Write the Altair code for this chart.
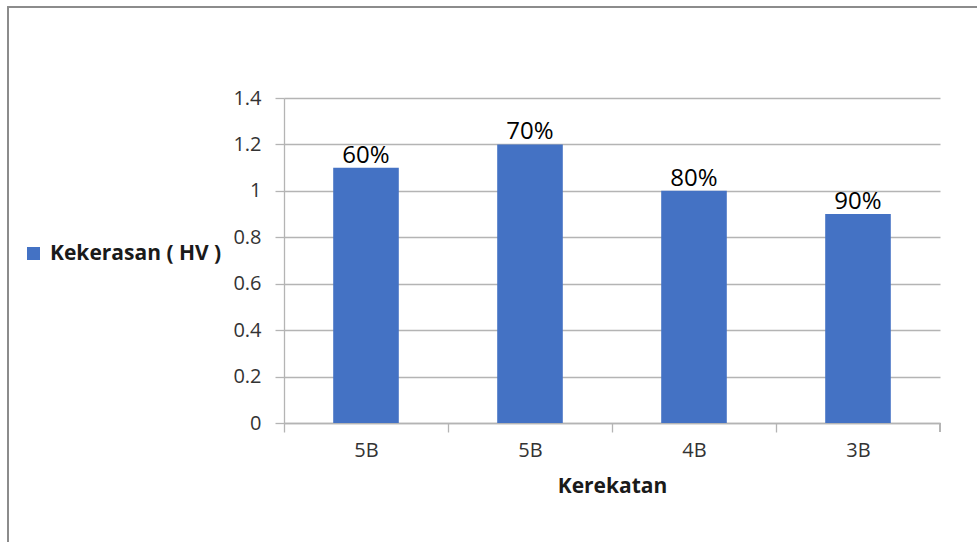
import json
import altair as alt
import pandas as pd

# ---- data ----
categories = ["5B", "5B", "4B", "3B"]
hardness = [1.1, 1.2, 1.0, 0.9]
bar_labels = ["60%", "70%", "80%", "90%"]
series_name = "Kekerasan ( HV )"
y_ticks = [0, 0.2, 0.4, 0.6, 0.8, 1.0, 1.2, 1.4]

df = pd.DataFrame({
    "key": [str(i) for i in range(len(categories))],
    "cat": categories,
    "value": hardness,
    "label": bar_labels,
    "series": [series_name] * len(categories),
})

W, H = 656, 325
STEP = W / len(categories)
BLUE = "#4472C4"
GRID = "#B4B4B4"
FONT = "Open Sans"

label_expr = json.dumps(categories) + "[toNumber(datum.value)]"

x_enc = alt.X(
    "key:N",
    sort=None,
    scale=alt.Scale(paddingInner=0.6, paddingOuter=0.3),
    axis=alt.Axis(
        title="Kerekatan",
        labelExpr=label_expr,
        labelAngle=0,
        bandPosition=0.5,
        tickOffset=-STEP / 2,
        labelOffset=STEP / 2,
        labelFont=FONT,
        labelFontSize=20,
        labelColor="#333333",
        labelPadding=8,
        tickSize=9,
        tickColor=GRID,
        tickWidth=1.3,
        domainColor=GRID,
        domainWidth=1.3,
        titleFont=FONT,
        titleFontSize=21,
        titleFontWeight="bold",
        titleColor="#1a1a1a",
        titlePadding=15,
    ),
)

y_enc = alt.Y(
    "value:Q",
    scale=alt.Scale(domain=[0, 1.4], nice=False),
    axis=alt.Axis(
        title=None,
        values=y_ticks,
        labelExpr="datum.value == 0 ? '0' : datum.value == 1 ? '1' : format(datum.value, '.1f')",
        labelFont=FONT,
        labelFontSize=20,
        labelColor="#333333",
        labelPadding=14,
        tickSize=9,
        tickColor=GRID,
        tickWidth=1.3,
        grid=True,
        gridColor=GRID,
        gridWidth=1.3,
        domainColor=GRID,
        domainWidth=1.3,
    ),
)

bars = alt.Chart(df).mark_bar().encode(
    x=x_enc,
    y=y_enc,
    color=alt.Color(
        "series:N",
        scale=alt.Scale(range=[BLUE]),
        legend=alt.Legend(
            title=None,
            orient="none",
            legendX=-261,
            legendY=145,
            symbolType="square",
            symbolSize=170,
            symbolStrokeWidth=0,
            labelFont=FONT,
            labelFontSize=21,
            labelFontWeight="bold",
            labelColor="#1a1a1a",
            labelOffset=6,
            labelLimit=0,
            padding=0,
        ),
    ),
)

texts = alt.Chart(df).mark_text(
    baseline="alphabetic", align="center", dy=-5, font=FONT, fontSize=24, color="#000000"
).encode(
    x=alt.X("key:N", sort=None),
    y=alt.Y("value:Q"),
    text="label:N",
)

end_tick = alt.Chart(df).mark_rule(color=GRID, strokeWidth=1.3).encode(
    x=alt.value(W), y=alt.value(H), y2=alt.value(H + 9)
)

frame = alt.Chart(df).mark_rect(fill=None, stroke="#8C8C8C", strokeWidth=1.5).encode(
    x=alt.value(-276), y=alt.value(-91), x2=alt.value(W + 60), y2=alt.value(H + 140)
)

chart = alt.layer(frame, bars, texts, end_tick).properties(
    width=W,
    height=H,
    autosize=alt.AutoSizeParams(type="none"),
    padding={"left": 284, "top": 98, "right": 37, "bottom": 119},
    background="white",
).configure_view(stroke=None)

chart.save("out.html", embed_options={"renderer": "svg", "actions": False})
